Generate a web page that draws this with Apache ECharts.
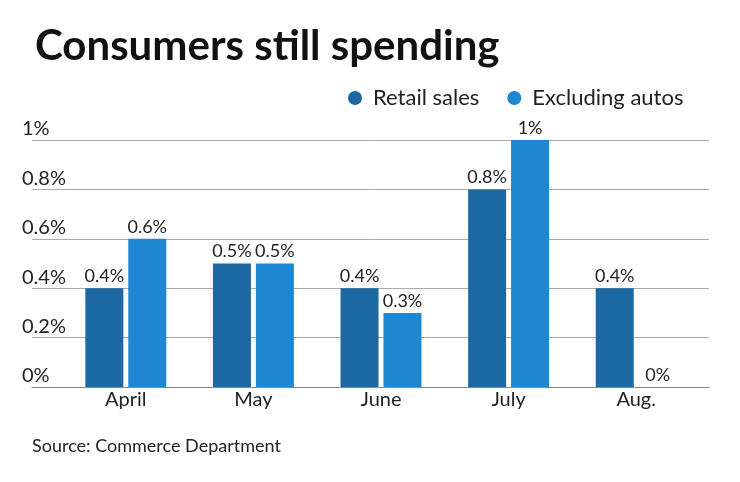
<!DOCTYPE html>
<html>
<head>
<meta charset="utf-8">
<script src="https://cdn.jsdelivr.net/npm/echarts@6/dist/echarts.min.js"></script>
<style>html,body{margin:0;padding:0;background:#fff}#c{width:740px;height:482px}</style>
</head>
<body>
<div id="c"></div>
<script>
const categories = ['April', 'May', 'June', 'July', 'Aug.'];
const retailSales = [0.4, 0.5, 0.4, 0.8, 0.4];
const excludingAutos = [0.6, 0.5, 0.3, 1, 0];
const yTickLabels = ['0%', '0.2%', '0.4%', '0.6%', '0.8%', '1%'];
const seriesNames = ['Retail sales', 'Excluding autos'];

const FONT = 'Lato';
const chart = echarts.init(document.getElementById('c'), null, {renderer: 'canvas'});
const labelCfg = {
  show: true, position: 'top', distance: 3,
  fontFamily: FONT, fontSize: 18, color: '#222',
  formatter: p => p.value + '%'
};
chart.setOption({
  animation: false,
  backgroundColor: '#fff',
  textStyle: {fontFamily: FONT},
  title: {
    text: 'Consumers still spending',
    left: 30, top: 20,
    textStyle: {fontFamily: FONT, fontSize: 42, fontWeight: 'bold', color: '#111'}
  },
  legend: {
    data: seriesNames,
    left: 343, top: 82,
    icon: 'circle', itemWidth: 14, itemHeight: 14, itemGap: 28,
    textStyle: {fontFamily: FONT, fontSize: 22, color: '#222', padding: [0, 0, 0, 6]}
  },
  grid: [
    {left: 62, right: 40, top: 140, bottom: 95},
    {left: 32, right: 31, top: 140, bottom: 95}
  ],
  xAxis: [
    {
      type: 'category', gridIndex: 0, data: categories,
      axisLine: {show: false}, axisTick: {show: false},
      axisLabel: {fontFamily: FONT, fontSize: 20, color: '#222', margin: 3}
    },
    {
      type: 'category', gridIndex: 1, data: categories,
      axisLine: {show: true, lineStyle: {color: '#888', width: 1}},
      axisTick: {show: false}, axisLabel: {show: false}
    }
  ],
  yAxis: [
    {type: 'value', gridIndex: 0, min: 0, max: 1, interval: 0.2, show: false},
    {
      type: 'value', gridIndex: 1, min: 0, max: 1, interval: 0.2,
      axisLine: {show: false}, axisTick: {show: false},
      splitLine: {lineStyle: {color: '#aaa', width: 1}},
      axisLabel: {
        fontFamily: FONT, fontSize: 20, color: '#222',
        align: 'left', verticalAlign: 'bottom', margin: 10, padding: [0, 0, 1, 0],
        formatter: (v, i) => yTickLabels[i]
      }
    }
  ],
  series: [
    {
      name: seriesNames[0], type: 'bar', xAxisIndex: 0, yAxisIndex: 0,
      data: retailSales, barWidth: 38, barGap: '13%',
      itemStyle: {color: '#1c68a2'}, label: labelCfg, z: 3
    },
    {
      name: seriesNames[1], type: 'bar', xAxisIndex: 0, yAxisIndex: 0,
      data: excludingAutos, barWidth: 38, barGap: '13%',
      itemStyle: {color: '#1f87d2'}, label: labelCfg, z: 3
    }
  ],
  graphic: [
    {
      type: 'text', left: 32, top: 437,
      style: {text: 'Source: Commerce Department', fontFamily: FONT, fontSize: 18, fill: '#222'}
    }
  ]
});
</script>
</body>
</html>
